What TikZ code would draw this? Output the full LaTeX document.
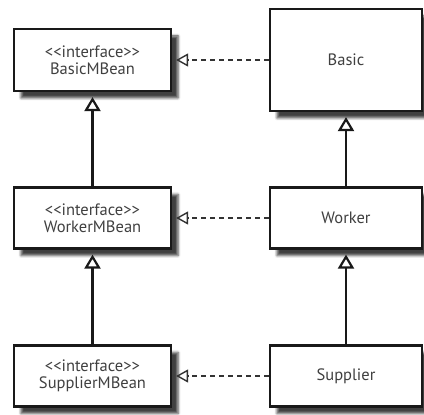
\documentclass[tikz,border=0pt]{standalone}
\usepackage{fontspec}
\newfontfamily\umlfont{PT Sans}
\usetikzlibrary{arrows.meta,shadows.blur}

\begin{document}
\begin{tikzpicture}[x=1pt,y=1pt,
		box/.style={draw=black!90,line width=2.2pt,fill=white,align=center,text=black!75,
			font=\umlfont\fontsize{16.5}{17}\selectfont,minimum height=61pt,
			blur shadow={shadow xshift=7pt,shadow yshift=-7pt,shadow blur radius=2.5pt,shadow opacity=75}},
		iface/.style={box,minimum width=157pt},
		cls/.style={box,minimum width=152pt},
		inherit/.style={line width=2.2pt,draw=black!90,-{Triangle[open,length=14pt,width=16pt]}},
		realize/.style={line width=1.4pt,draw=black!80,dash pattern=on 5pt off 4pt,-{Triangle[open,length=12pt,width=13pt]}}]
		\useasboundingbox (0,0) rectangle (424,415);
		% interfaces
		\node[iface,minimum height=62pt] (basicmb) at (92.5,355) {<<interface>>\\BasicMBean};
		\node[iface] (workermb) at (92.5,197) {<<interface>>\\WorkerMBean};
		\node[iface] (suppliermb) at (92.5,39) {<<interface>>\\SupplierMBean};
		% classes
		\node[cls,minimum height=102pt] (basic) at (346,355) {Basic};
		\node[cls] (worker) at (346,197) {Worker};
		\node[cls] (supplier) at (346,39) {Supplier};
		% generalization
		\draw[inherit] (workermb.north) -- ([yshift=-5pt]basicmb.south);
		\draw[inherit] (suppliermb.north) -- ([yshift=-5pt]workermb.south);
		\draw[inherit] (worker.north) -- ([yshift=-5pt]basic.south);
		\draw[inherit] (supplier.north) -- ([yshift=-5pt]worker.south);
		% realization
		\draw[realize] (basic.west) -- ([xshift=4pt]basicmb.east);
		\draw[realize] (worker.west) -- ([xshift=4pt]workermb.east);
		\draw[realize] (supplier.west) -- ([xshift=4pt]suppliermb.east);
\end{tikzpicture}
\end{document}
